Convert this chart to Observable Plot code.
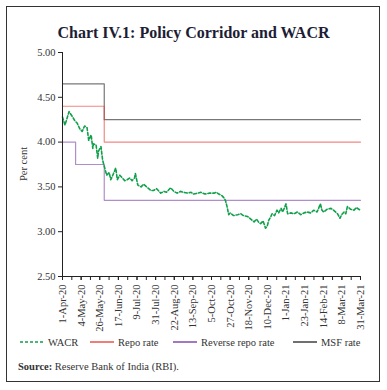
<!DOCTYPE html>
<html>
<head>
<meta charset="utf-8">
<script src="https://cdn.jsdelivr.net/npm/d3@7"></script>
<script src="https://cdn.jsdelivr.net/npm/@observablehq/plot@0.6"></script>
<style>
  html, body { margin: 0; padding: 0; background: #fff; }
  #page { position: relative; width: 387px; height: 390px; overflow: hidden; font-family: "Liberation Serif", "DejaVu Serif", serif; color: #333; }
  #frame { position: absolute; left: 6px; top: 6px; width: 374px; height: 376px; border: 1.5px solid #333; box-sizing: border-box; }
  #title { position: absolute; left: 0; width: 387px; top: 24px; text-align: center; font-size: 16px; font-weight: bold; color: #1d1d35; }
  #chart { position: absolute; left: 0; top: 40px; }
  #ylab { position: absolute; left: 23px; top: 164px; transform: translate(-50%, -50%) rotate(-90deg); font-size: 10.5px; white-space: nowrap; color: #333; }
  #legend { position: absolute; top: 335px; left: 0; width: 387px; height: 14px; font-size: 10.5px; color: #333; }
  .li { position: absolute; top: 0; display: flex; align-items: center; height: 14px; white-space: nowrap; }
  .li svg { margin-right: 4px; }
  #source { position: absolute; left: 18px; top: 361px; font-size: 10.5px; color: #333; }
</style>
</head>
<body>
<div id="page">
  <div id="frame"></div>
  <div id="title">Chart IV.1: Policy Corridor and WACR</div>
  <div id="chart"></div>
  <div id="ylab">Per cent</div>
  <div id="legend"></div>
  <div id="source"><b>Source:</b> Reserve Bank of India (RBI).</div>
</div>
<script>
// ---- Data (days counted from 1-Apr-2020) ----
const xTickLabels = ["1-Apr-20","4-May-20","26-May-20","17-Jun-20","9-Jul-20","31-Jul-20","22-Aug-20","13-Sep-20","5-Oct-20","27-Oct-20","18-Nov-20","10-Dec-20","1-Jan-21","23-Jan-21","14-Feb-21","8-Mar-21","31-Mar-21"];
const yTicks = [2.5, 3.0, 3.5, 4.0, 4.5, 5.0];
const lastDay = 364;

const msfDay = [0, 51, 364];
const msfRate = [4.65, 4.25, 4.25];
const repoDay = [0, 51, 364];
const repoRate = [4.40, 4.00, 4.00];
const revDay = [0, 16, 51, 364];
const revRate = [4.00, 3.75, 3.35, 3.35];

const wacrDay = [0,3,5,8,11,15,18,21,24,27,30,32,35,37,38,41,43,44,47,49,51,54,57,59,61,65,67,70,73,76,79,82,85,88,89,92,96,99,104,108,111,115,120,124,127,132,136,140,144,148,153,157,160,165,169,174,179,185,188,191,195,197,199,201,203,205,209,214,218,221,226,230,234,237,240,242,245,248,250,252,254,256,259,262,264,267,269,273,275,279,283,287,291,295,299,303,307,311,315,317,319,323,328,331,336,339,341,344,346,348,352,356,359,362,364];
const wacrValue = [4.28,4.19,4.25,4.34,4.30,4.24,4.21,4.15,4.12,4.18,4.16,4.02,4.08,3.93,3.98,3.97,3.82,3.90,3.95,3.80,3.73,3.63,3.66,3.58,3.62,3.71,3.58,3.63,3.60,3.57,3.58,3.60,3.57,3.60,3.65,3.52,3.50,3.53,3.49,3.46,3.46,3.48,3.43,3.45,3.44,3.49,3.45,3.43,3.45,3.44,3.43,3.44,3.42,3.43,3.44,3.42,3.43,3.43,3.44,3.42,3.40,3.38,3.35,3.28,3.19,3.21,3.18,3.19,3.20,3.18,3.17,3.14,3.11,3.14,3.10,3.09,3.12,3.04,3.06,3.13,3.16,3.20,3.18,3.24,3.21,3.26,3.22,3.31,3.20,3.21,3.20,3.22,3.19,3.21,3.22,3.21,3.24,3.22,3.31,3.24,3.22,3.25,3.26,3.24,3.20,3.15,3.19,3.22,3.20,3.28,3.25,3.24,3.27,3.25,3.24];

const colors = {wacr: "#10a04a", repo: "#e8392f", rev: "#7030a0", msf: "#222222"};

// ---- Build tables ----
const toRows = (days, vals) => days.map((d, i) => ({day: d, value: vals[i]}));
const wacr = toRows(wacrDay, wacrValue);
const msf = toRows(msfDay, msfRate);
const repo = toRows(repoDay, repoRate);
const rev = toRows(revDay, revRate);

const nLab = xTickLabels.length - 1;
const majorTicks = xTickLabels.map((_, i) => i * lastDay / nLab);
const minorTicks = d3.range(0, 2 * nLab + 1).map(i => i * lastDay / (2 * nLab));

const chart = Plot.plot({
  width: 387,
  height: 296,
  marginLeft: 62,
  marginRight: 27,
  marginTop: 12,
  marginBottom: 60,
  style: {fontFamily: "Liberation Serif, DejaVu Serif, serif", fontSize: "10.5px", color: "#333", background: "transparent"},
  x: {domain: [0, lastDay], axis: null},
  y: {domain: [2.5, 5.0], axis: null},
  marks: [
    Plot.line(msf, {x: "day", y: "value", curve: "step-after", stroke: "#555", strokeOpacity: 0.8, strokeWidth: 1.2}),
    Plot.line(repo, {x: "day", y: "value", curve: "step-after", stroke: colors.repo, strokeOpacity: 0.6, strokeWidth: 1.2}),
    Plot.line(rev, {x: "day", y: "value", curve: "step-after", stroke: colors.rev, strokeOpacity: 0.55, strokeWidth: 1.2}),
    Plot.line(wacr, {x: "day", y: "value", stroke: colors.wacr, strokeWidth: 1.6, strokeDasharray: "3,2"}),
    Plot.ruleX([0], {stroke: "#222", strokeWidth: 1}),
    Plot.ruleY([2.5], {stroke: "#222", strokeWidth: 1}),
    Plot.axisY({ticks: yTicks, tickFormat: d3.format(".2f"), tickSize: 4, tickPadding: 3, label: null, stroke: "#222", fill: "#333", fontSize: 10.5}),
    Plot.axisX({ticks: minorTicks, tickFormat: () => "", tickSize: 4, label: null, stroke: "#222"}),
    Plot.axisX({ticks: majorTicks, tickFormat: d => xTickLabels[Math.round(d * nLab / lastDay)], tickSize: 4, tickPadding: 4, tickRotate: -90, label: null, stroke: "#222", fill: "#333", fontSize: 10.5})
  ]
});
document.getElementById("chart").appendChild(chart);

// ---- Legend ----
const legendItems = [
  {label: "WACR", color: colors.wacr, dash: "3,2", x: 20},
  {label: "Repo rate", color: colors.repo, dash: null, x: 90},
  {label: "Reverse repo rate", color: colors.rev, dash: null, x: 173},
  {label: "MSF rate", color: colors.msf, dash: null, x: 293}
];
const legend = document.getElementById("legend");
for (const it of legendItems) {
  const el = document.createElement("div");
  el.className = "li";
  el.style.left = it.x + "px";
  el.innerHTML = `<svg width="24" height="6"><line x1="0" y1="3" x2="24" y2="3" stroke="${it.color}" stroke-width="1.3" ${it.dash ? `stroke-dasharray="${it.dash}"` : ""}/></svg><span>${it.label}</span>`;
  legend.appendChild(el);
}
</script>
</body>
</html>
